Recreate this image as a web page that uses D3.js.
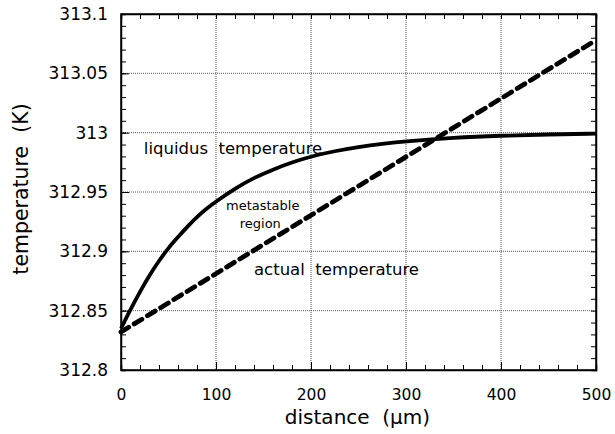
<!DOCTYPE html>
<html><head><meta charset="utf-8">
<script src="https://cdn.jsdelivr.net/npm/d3@7"></script>
<style>body{margin:0;background:#fff}</style>
</head><body>
<svg id="c" width="615" height="434"></svg>
<script>
const xTicks = [0, 100, 200, 300, 400, 500];
const yTicks = [312.8, 312.85, 312.9, 312.95, 313, 313.05, 313.1];
const yTickLabels = ["312.8", "312.85", "312.9", "312.95", "313", "313.05", "313.1"];
const liquidusX = [0, 10, 20, 30, 40, 50, 60, 70, 80, 90, 100, 120, 140, 160, 180, 200, 225, 250, 275, 300, 350, 400, 450, 500];
const liquidusT = [312.835, 312.851, 312.866, 312.880, 312.892, 312.903, 312.912, 312.921, 312.929, 312.936, 312.942, 312.953, 312.962, 312.969, 312.975, 312.980, 312.9845, 312.988, 312.9907, 312.9928, 312.9958, 312.9975, 312.9985, 312.9992];
const actualX = [0, 500];
const actualT = [312.832, 313.078];
const annotations = [
  {text: "liquidus\u00a0\u00a0temperature", x: 24, t: 312.982, size: 16.5},
  {text: "metastable", x: 110.5, t: 312.935, size: 13},
  {text: "region", x: 125, t: 312.920, size: 13},
  {text: "actual\u00a0\u00a0temperature", x: 140, t: 312.880, size: 16.5}
];

const m = {l: 121, r: 596, t: 14, b: 370};
const svg = d3.select("#c");
const font = "DejaVu Sans, Verdana, sans-serif";
const x = d3.scaleLinear().domain([0, 500]).range([m.l, m.r]);
const y = d3.scaleLinear().domain([312.8, 313.1]).range([m.b, m.t]);

// grid
const g = svg.append("g");
g.selectAll(".vx").data(xTicks.slice(1, -1)).join("line")
  .attr("x1", d => x(d)).attr("x2", d => x(d)).attr("y1", m.t).attr("y2", m.b)
  .attr("stroke", "#555").attr("stroke-width", 1).attr("stroke-dasharray", "1,1");
g.selectAll(".hy").data(yTicks.slice(1, -1)).join("line")
  .attr("y1", d => y(d)).attr("y2", d => y(d)).attr("x1", m.l).attr("x2", m.r)
  .attr("stroke", "#555").attr("stroke-width", 1).attr("stroke-dasharray", "1,1");

// axes with inward ticks
const xMinor = d3.range(0, 501, 20);
const yMinor = d3.range(0, 31).map(i => 312.8 + i * 0.01);
function axisG(axis, tr) {
  const a = svg.append("g").attr("transform", tr).call(axis);
  a.select(".domain").attr("stroke", "#000").attr("stroke-width", 1.5);
  a.selectAll("line").attr("stroke", "#000");
  return a;
}
axisG(d3.axisBottom(x).tickValues(xMinor).tickSize(-5).tickFormat(""), `translate(0,${m.b})`);
axisG(d3.axisTop(x).tickValues(xMinor).tickSize(-5).tickFormat(""), `translate(0,${m.t})`);
axisG(d3.axisLeft(y).tickValues(yMinor).tickSize(-5).tickFormat(""), `translate(${m.l},0)`);
axisG(d3.axisRight(y).tickValues(yMinor).tickSize(-5).tickFormat(""), `translate(${m.r},0)`);

const xa = svg.append("g").attr("transform", `translate(0,${m.b})`)
  .call(d3.axisBottom(x).tickValues(xTicks).tickSize(-8).tickPadding(19).tickFormat(d3.format("d")));
xa.select(".domain").remove();
xa.selectAll("line").attr("stroke", "#000");
xa.selectAll("text").attr("font-family", font).attr("font-size", 15.5).attr("fill", "#000");

const ya = svg.append("g").attr("transform", `translate(${m.l},0)`)
  .call(d3.axisLeft(y).tickValues(yTicks).tickSize(-8).tickPadding(13).tickFormat((d, i) => yTickLabels[i]));
ya.select(".domain").remove();
ya.selectAll("line").attr("stroke", "#000");
ya.selectAll("text").attr("font-family", font).attr("font-size", 17).attr("fill", "#000");

svg.append("rect").attr("x", m.l).attr("y", m.t).attr("width", m.r - m.l).attr("height", m.b - m.t)
  .attr("fill", "none").attr("stroke", "#000").attr("stroke-width", 1.5);

// lines
const line = d3.line().curve(d3.curveBasis);
svg.append("path")
  .attr("d", line(liquidusX.map((d, i) => [x(d), y(liquidusT[i])])))
  .attr("fill", "none").attr("stroke", "#000").attr("stroke-width", 3.8);
svg.append("path")
  .attr("d", d3.line()(actualX.map((d, i) => [x(d), y(actualT[i])])))
  .attr("fill", "none").attr("stroke", "#000").attr("stroke-width", 4.8)
  .attr("stroke-dasharray", "9,6.5").attr("stroke-linecap", "round");

// annotations
svg.selectAll(".ann").data(annotations).join("text")
  .attr("x", d => x(d.x)).attr("y", d => y(d.t))
  .attr("font-family", font).attr("font-size", d => d.size).attr("fill", "#000")
  .text(d => d.text);

// axis titles
svg.append("text").attr("x", 357.5).attr("y", 424).attr("text-anchor", "middle")
  .attr("font-family", font).attr("font-size", 20).text("distance\u00a0\u00a0(\u00b5m)");
svg.append("text").attr("transform", "translate(28,189) rotate(-90)").attr("text-anchor", "middle")
  .attr("font-family", font).attr("font-size", 20.5).text("temperature\u00a0\u00a0(K)");
</script>
</body></html>
